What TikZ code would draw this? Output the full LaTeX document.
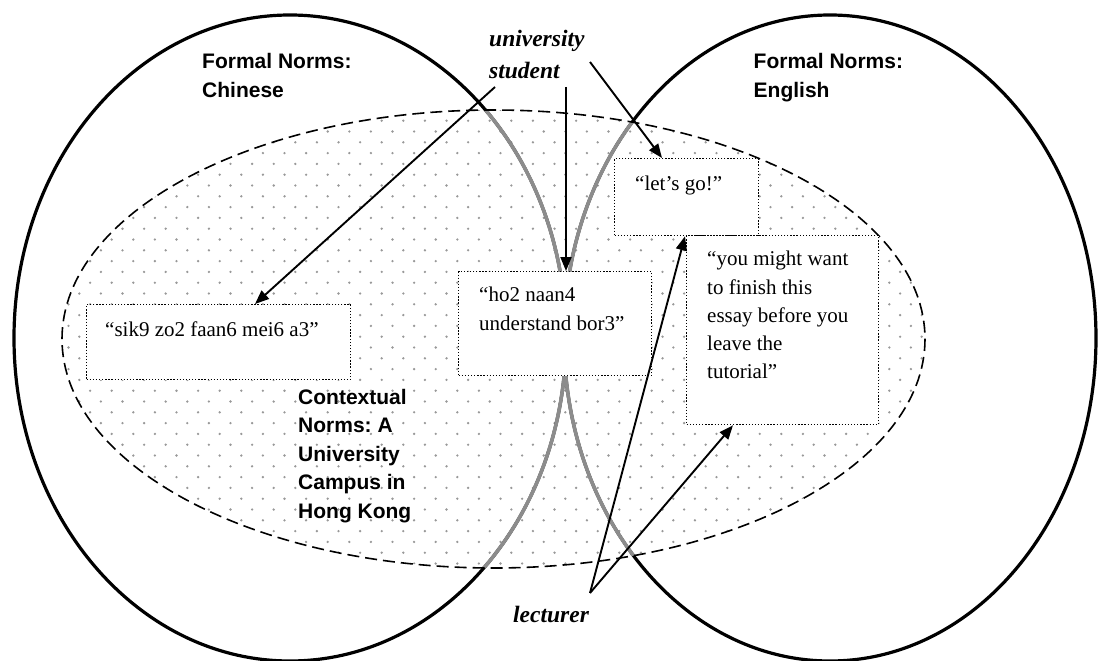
\documentclass[tikz,border=0pt]{standalone}
\usepackage{fontspec}
\setmainfont{Liberation Serif}
\setsansfont{Liberation Sans}
\usetikzlibrary{arrows.meta,calc}
\frenchspacing

% stacked lines sharing one baseline for the first row
\newcommand{\rowsof}[1]{\begin{tabular}[t]{@{}l@{}}#1\end{tabular}}

\begin{document}
\begin{tikzpicture}[x=1pt,y=-1pt,
  ring/.style={line width=3.2pt},
  ringgrey/.style={line width=3.6pt,draw=black!45},
  contextring/.style={line width=1.6pt,dash pattern=on 12pt off 6pt},
  dotfill/.style={fill=black!40},
  quotebox/.style={draw,fill=white,line width=1.3pt,dash pattern=on 1.3pt off 1.8pt,
                   anchor=north west,inner sep=0pt},
  quote/.style={font=\fontsize{21}{28.3}\selectfont,anchor=base west,inner sep=0pt},
  normlabel/.style={font=\sffamily\bfseries\fontsize{21}{28.5}\selectfont,anchor=base west,inner sep=0pt},
  ctxlabel/.style={font=\sffamily\bfseries\fontsize{21}{28.6}\selectfont,anchor=base west,inner sep=0pt},
  actor/.style={font=\bfseries\itshape\fontsize{23.5}{32}\selectfont,anchor=base west,inner sep=0pt},
  pointer/.style={line width=1.9pt,-{Triangle[length=14pt,width=11pt]}}]
\useasboundingbox (0,0) rectangle (1101,661);

% dotted shading of the contextual norms region
\begin{scope}
  \clip (493.5,339) ellipse [x radius=431.5, y radius=229];
  \foreach \j in {0,...,43} {
    \foreach \i in {-16,...,25} {
      \fill[dotfill] ({392.5+21.6*\i+10.8*mod(\j,2)},{109.9+10.8*\j}) circle (1.3);
    }
  }
\end{scope}

% the two formal norm sets
\draw[ring] (290,338) ellipse [x radius=276, y radius=323];
\draw[ring] (830,338) ellipse [x radius=266, y radius=323];

% their boundaries inside the contextual region are shown in grey
\begin{scope}
  \clip (493.5,339) ellipse [x radius=431.5, y radius=229];
  \draw[ringgrey] (290,338) ellipse [x radius=276, y radius=323];
  \draw[ringgrey] (830,338) ellipse [x radius=266, y radius=323];
\end{scope}

% contextual norms boundary
\draw[contextring] (493.5,339) ellipse [x radius=431.5, y radius=229];

% utterance boxes
\node[quotebox,minimum width=264pt,minimum height=75pt] (boxA) at (86,304) {};
\node[quotebox,minimum width=193pt,minimum height=104pt] (boxB) at (458,271) {};
\node[quotebox,minimum width=144pt,minimum height=77pt] (boxC) at (614,158) {};
\node[quotebox,minimum width=192pt,minimum height=189pt] (boxD) at (686,235) {};

\node[quote] (qA) at (105,336) {“sik9 zo2 faan6 mei6 a3”};
\node[quote] (qB) at (479,301.7) {\rowsof{“ho2 naan4\\understand bor3”}};
\node[quote] (qC) at (635,190) {“let’s go!”};
\node[quote] (qD) at (707,265.7) {\rowsof{“you might want\\to finish this\\essay before you\\leave the\\tutorial”}};

% set labels
\node[normlabel] (fnC) at (202,69) {\rowsof{Formal Norms:\\Chinese}};
\node[normlabel] (fnE) at (753.5,69) {\rowsof{Formal Norms:\\English}};
\node[ctxlabel] (ctx) at (298,404) {\rowsof{Contextual\\Norms: A\\University\\Campus in\\Hong Kong}};

% speakers
\node[actor] (student) at (489,46.5) {\rowsof{university\\student}};
\node[actor] (lecturer) at (513,622) {lecturer};

% arrow ends
\coordinate (sFromA) at (495,87);
\coordinate (sFromB) at (566,87);
\coordinate (sFromC) at (590,62);
\coordinate (lApex) at (590,593);
\coordinate (tipA) at ($(boxA.north west)+(169,0)$);
\coordinate (tipB) at ($(boxB.north west)+(108,0)$);
\coordinate (tipC) at ($(boxC.north west)+(48,0)$);
\coordinate (tipC2) at ($(boxC.south west)+(71,0)$);
\coordinate (tipD) at ($(boxD.south west)+(47,0)$);

\draw[pointer] (sFromA) -- (tipA);
\draw[pointer] (sFromB) -- (tipB);
\draw[pointer] (sFromC) -- (tipC);
\draw[pointer] (lApex) -- (tipC2);
\draw[pointer] (lApex) -- (tipD);
\end{tikzpicture}
\end{document}
